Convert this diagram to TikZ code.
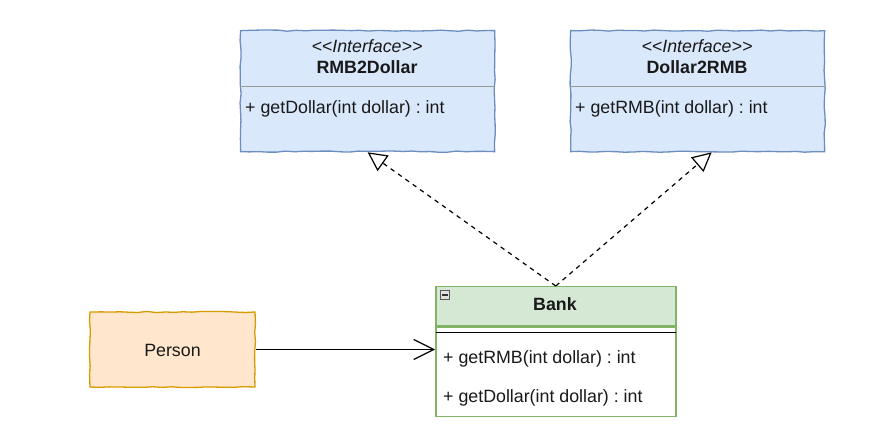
\documentclass[tikz,border=0pt]{standalone}
\usepackage{fontspec}
\setmainfont{Liberation Sans}[Ligatures=TeXOff]
\usetikzlibrary{positioning,arrows.meta,decorations.pathmorphing}
\frenchspacing

\definecolor{ifacefill}{HTML}{DAE8FC}
\definecolor{ifaceline}{HTML}{6C8EBF}
\definecolor{bankfill}{HTML}{D5E8D4}
\definecolor{bankline}{HTML}{82B366}
\definecolor{personfill}{HTML}{FFE6CC}
\definecolor{personline}{HTML}{D79B00}

\tikzset{
    sketchy/.style={decorate,decoration={random steps,segment length=9pt,amplitude=0.6pt}},
    ifacebox/.style={sketchy,draw=ifaceline,fill=ifacefill,line width=1.3pt,
        minimum width=254pt,minimum height=121pt,inner sep=0pt,anchor=north west},
    personbox/.style={sketchy,draw=personline,fill=personfill,line width=1.3pt,
        minimum width=165pt,minimum height=75pt,inner sep=0pt},
    bankhead/.style={draw=bankline,fill=bankfill,line width=1.5pt,
        minimum width=240pt,minimum height=39pt,inner sep=0pt,anchor=north west},
    bankbody/.style={draw=bankline,fill=white,line width=1.5pt,
        minimum width=240pt,minimum height=89pt,inner sep=0pt,anchor=north},
    label/.style={inner sep=0pt,anchor=base},
    member/.style={inner sep=0pt,anchor=base west},
    divider/.style={draw=black!40,line width=1pt},
    realize/.style={line width=1.2pt,dash pattern=on 4.5pt off 4.5pt,
        -{Triangle[open,length=19pt,width=19pt,line width=1.2pt]}},
    assoc/.style={line width=1.2pt,-{Straight Barb[length=20pt,width=20pt,line width=1.2pt]}},
}

\begin{document}
\begin{tikzpicture}[x=1pt,y=-1pt,
    every node/.append style={font=\fontsize{17.8}{21}\selectfont,text=black!90}]
    \useasboundingbox (0,0) rectangle (889,430);

    % interfaces
    \node[ifacebox] (rmb) at (240,30) {};
    \node[label] (rmbst) at (367,53) {\itshape <<Interface>>};
    \node[label,font=\fontsize{17.8}{21}\selectfont\bfseries] (rmbname) at (367,73.5) {RMB2Dollar};
    \draw[divider] (rmb.west |- 0,87) -- (rmb.east |- 0,87);
    \node[member] (rmbop) at (245,113.5) {+ getDollar(int dollar) : int};

    \node[ifacebox] (d2r) at (570,30) {};
    \node[label] (d2rst) at (697,53) {\itshape <<Interface>>};
    \node[label,font=\fontsize{17.8}{21}\selectfont\bfseries] (d2rname) at (697,73.5) {Dollar2RMB};
    \draw[divider] (d2r.west |- 0,87) -- (d2r.east |- 0,87);
    \node[member] (d2rop) at (575,113.5) {+ getRMB(int dollar) : int};

    % bank class
    \node[bankhead] (bank) at (435,286) {};
    \node[bankbody] (bankbody) at (bank.south) {};
    \node[label,font=\fontsize{17.8}{21}\selectfont\bfseries] (bankname) at (555,310.5) {Bank};
    \node[draw=black!65,fill=black!12,line width=0.8pt,minimum size=8.5pt,inner sep=0pt] (bankicon) at (445,295) {};
    \draw[line width=1.3pt,black!80] ([xshift=2pt]bankicon.west) -- ([xshift=-2pt]bankicon.east);
    \draw[line width=1.6pt] ([xshift=0.8pt,yshift=-6pt]bankbody.north west) -- ([xshift=-0.8pt,yshift=-6pt]bankbody.north east);
    \node[member] (bankop1) at (443,363) {+ getRMB(int dollar) : int};
    \node[member] (bankop2) at (443,402) {+ getDollar(int dollar) : int};

    % person
    \node[personbox] (person) at (172.5,349.5) {};
    \node[label] (personname) at (172.5,356.5) {Person};

    % connectors
    \draw[realize] (bank.north) -- (rmb.south);
    \draw[realize] (bank.north) -- ([xshift=14pt]d2r.south);
    \draw[assoc] (person.east) -- (person.east -| bankbody.west);
\end{tikzpicture}
\end{document}
